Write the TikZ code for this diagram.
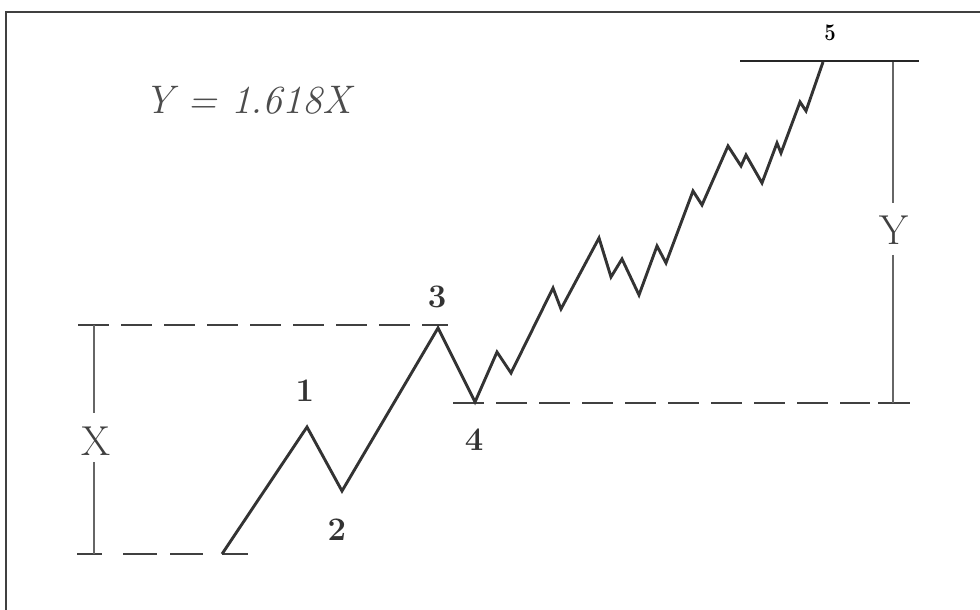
\documentclass[tikz,border=0pt]{standalone}
\usepackage{fontspec}
\begin{document}
\begin{tikzpicture}[x=1bp,y=-1bp,
  frame/.style={line width=2bp, draw=black!75},
  wave/.style={line width=2.9bp, draw=black!80, line join=miter},
  guide/.style={line width=2.6bp, draw=black!75, dash pattern=on 31bp off 12bp},
  tickline/.style={line width=2.6bp, draw=black!75},
  topline/.style={line width=1.4bp, draw=black!85},
  meas/.style={line width=1.1bp, draw=black!60},
  wl/.style={font=\bfseries\fontsize{33}{33}\selectfont, text=black!80, inner sep=0pt},
  big/.style={font=\fontsize{42}{42}\selectfont, text=black!75, inner sep=0pt}]
\useasboundingbox (0,0) rectangle (980,610);
\fill[white] (0,0) rectangle (980,610);
\draw[frame] (6,610) -- (6,12) -- (980,12);

% wave points
\coordinate (w0) at (222,554);
\coordinate (w1) at (307,427);
\coordinate (w2) at (342,491);
\coordinate (w3) at (438,328);
\coordinate (w4) at (475,402);
\coordinate (w5) at (823,62);

% guide lines
\draw[guide] (78,325) -- (448,325);
\draw[tickline] (77,554) -- (102,554);
\draw[tickline] (123,554) -- (157,554);
\draw[tickline] (170,554) -- (203,554);
\draw[tickline] (w0) -- (248,554);
\draw[guide] (453,403) -- (870,403);
\draw[tickline] (878,403) -- (910,403);
\draw[topline] (740,61) -- (919,61);

% measurement lines
\node[big] (X) at (96,441) {X};
\node[big] (Y) at (894,230) {Y};
\draw[meas] (94,325) -- (94,413);
\draw[meas] (94,462) -- (94,554);
\draw[meas] (893,62) -- (893,203);
\draw[meas] (893,255) -- (893,403);

% wave
\draw[wave] (w0) -- (w1) -- (w2) -- (w3) -- (w4)
  -- (497,352) -- (511,373) -- (553,288) -- (561,309) -- (599,238)
  -- (611,277) -- (622,259) -- (639,295) -- (657,246) -- (666,263)
  -- (693,191) -- (702,205) -- (728,146) -- (741,166) -- (746,155)
  -- (762,183) -- (777,143) -- (781,153) -- (800,102) -- (806,111)
  -- (w5);

% labels
\node[wl] (l1) at (305,391) {1};
\node[wl] (l2) at (337,530) {2};
\node[wl] (l3) at (437,297) {3};
\node[wl] (l4) at (474,440) {4};
\node[font=\bfseries\fontsize{24}{24}\selectfont, inner sep=0pt, xscale=0.85] (l5) at (830,33) {5};

\node[font=\itshape\fontsize{40}{40}\selectfont, text=black!70, inner sep=0pt] (eq) at (248,100) {Y = 1.618X};
\end{tikzpicture}
\end{document}
